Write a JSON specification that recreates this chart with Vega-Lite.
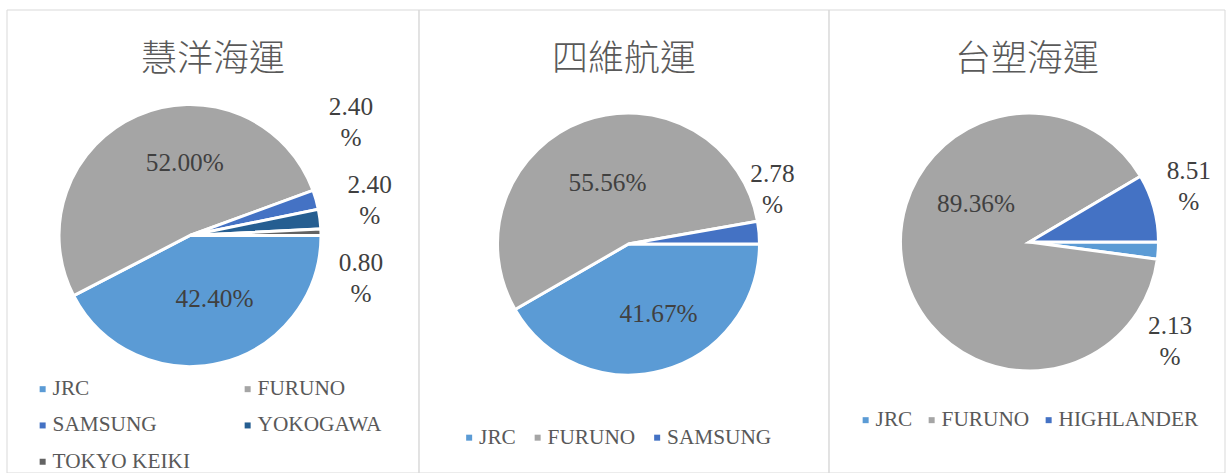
{
  "$schema": "https://vega.github.io/schema/vega-lite/v6.json",
  "background": "#ffffff",
  "padding": {"left": 6, "top": 9, "right": 0, "bottom": 0},
  "spacing": 0,
  "bounds": "flush",
  "config": {
    "view": {"stroke": null},
    "title": {"font": "Noto Sans CJK TC", "fontSize": 36, "fontWeight": 300, "color": "#595959", "anchor": "middle", "baseline": "middle", "offset": -69},
    "legend": {"orient": "none", "title": null, "symbolType": "square", "symbolSize": 36, "symbolStrokeWidth": 0, "labelFont": "Liberation Serif", "labelFontSize": 21.3, "labelColor": "#595959", "labelOffset": -0.7, "padding": 0, "direction": "horizontal", "labelLimit": 300},
    "text": {"font": "Liberation Serif", "fontSize": 25.3, "align": "center", "baseline": "middle"}
  },
  "datasets": {
    "p1": [
      {"brand": "JRC", "share": 0.424, "rank": 1},
      {"brand": "FURUNO", "share": 0.52, "rank": 2},
      {"brand": "SAMSUNG", "share": 0.024, "rank": 3},
      {"brand": "YOKOGAWA", "share": 0.024, "rank": 4},
      {"brand": "TOKYO KEIKI", "share": 0.008, "rank": 5}
    ],
    "p2": [
      {"brand": "JRC", "share": 0.4167, "rank": 1},
      {"brand": "FURUNO", "share": 0.5556, "rank": 2},
      {"brand": "SAMSUNG", "share": 0.0278, "rank": 3}
    ],
    "p3": [
      {"brand": "JRC", "share": 0.0213, "rank": 1},
      {"brand": "FURUNO", "share": 0.8936, "rank": 2},
      {"brand": "HIGHLANDER", "share": 0.0851, "rank": 3}
    ],
    "frame": [{}]
  },
  "resolve": {"scale": {"color": "independent", "theta": "independent"}, "legend": {"color": "independent"}},
  "hconcat": [
    {
      "width": 412, "height": 463,
      "title": {"text": "慧洋海運"},
      "layer": [
        {"data": {"name": "frame"}, "mark": {"type": "rect", "fill": "transparent", "stroke": "#D9D9D9", "strokeWidth": 1}, "encoding": {}},
        {
          "data": {"name": "p1"},
          "encoding": {
            "theta": {"field": "share", "type": "quantitative", "stack": true, "scale": {"range": [1.5707963, 7.8539816]}},
            "order": {"field": "rank", "type": "quantitative"},
            "color": {"field": "brand", "type": "nominal",
              "scale": {"domain": ["JRC", "FURUNO", "SAMSUNG", "YOKOGAWA", "TOKYO KEIKI"], "range": ["#5B9BD5", "#A5A5A5", "#4472C4", "#255E91", "#636363"]},
              "legend": {"legendX": 25, "legendY": 368.5, "columns": 2, "columnPadding": 46, "rowPadding": 14.3}}
          },
          "layer": [
            {"mark": {"type": "arc", "outerRadius": 131, "stroke": "#ffffff", "strokeWidth": 3, "x": 183, "y": 225.5}},
            {"mark": {"type": "text", "font": "Liberation Serif", "radius": 70, "x": 183, "y": 225.5, "dx": 8, "dy": -4.5},
             "encoding": {"text": {"field": "share", "format": ".2%"}, "color": {"value": "#404040"}, "opacity": {"condition": {"test": "datum.brand === 'JRC'", "value": 1}, "value": 0}}},
            {"mark": {"type": "text", "font": "Liberation Serif", "radius": 70, "x": 183, "y": 225.5, "dx": 23, "dy": -8},
             "encoding": {"text": {"field": "share", "format": ".2%"}, "color": {"value": "#404040"}, "opacity": {"condition": {"test": "datum.brand === 'FURUNO'", "value": 1}, "value": 0}}},
            {"mark": {"type": "text", "font": "Liberation Serif", "radius": {"expr": "datum.brand === 'SAMSUNG' ? 160 : 0"}, "x": 183, "y": 225.5, "dx": 7, "dy": -85, "lineHeight": 31, "lineBreak": {"expr": "regexp('(?=%)')"}},
             "encoding": {"text": {"field": "share", "format": ".2%"}, "color": {"value": "#404040"}, "opacity": {"condition": {"test": "datum.brand === 'SAMSUNG'", "value": 1}, "value": 0}}},
            {"mark": {"type": "text", "font": "Liberation Serif", "radius": {"expr": "datum.brand === 'YOKOGAWA' ? 160 : 0"}, "x": 183, "y": 225.5, "dx": 21, "dy": -30.5, "lineHeight": 31, "lineBreak": {"expr": "regexp('(?=%)')"}},
             "encoding": {"text": {"field": "share", "format": ".2%"}, "color": {"value": "#404040"}, "opacity": {"condition": {"test": "datum.brand === 'YOKOGAWA'", "value": 1}, "value": 0}}},
            {"mark": {"type": "text", "font": "Liberation Serif", "radius": {"expr": "datum.brand === 'TOKYO KEIKI' ? 160 : 0"}, "x": 183, "y": 225.5, "dx": 11, "dy": 32, "lineHeight": 31, "lineBreak": {"expr": "regexp('(?=%)')"}},
             "encoding": {"text": {"field": "share", "format": ".2%"}, "color": {"value": "#404040"}, "opacity": {"condition": {"test": "datum.brand === 'TOKYO KEIKI'", "value": 1}, "value": 0}}}
          ]
        }
      ]
    },
    {
      "width": 410, "height": 463,
      "title": {"text": "四維航運"},
      "layer": [
        {"data": {"name": "frame"}, "mark": {"type": "rect", "fill": "transparent", "stroke": "#D9D9D9", "strokeWidth": 1}, "encoding": {}},
        {
          "data": {"name": "p2"},
          "encoding": {
            "theta": {"field": "share", "type": "quantitative", "stack": true, "scale": {"range": [1.5707963, 7.8539816]}},
            "order": {"field": "rank", "type": "quantitative"},
            "color": {"field": "brand", "type": "nominal",
              "scale": {"domain": ["JRC", "FURUNO", "SAMSUNG"], "range": ["#5B9BD5", "#A5A5A5", "#4472C4"]},
              "legend": {"legendX": 39.5, "legendY": 417, "columnPadding": 10.5}}
          },
          "layer": [
            {"mark": {"type": "arc", "outerRadius": 131, "stroke": "#ffffff", "strokeWidth": 3, "x": 209.5, "y": 234}},
            {"mark": {"type": "text", "font": "Liberation Serif", "radius": 70, "x": 209.5, "y": 234, "dx": 12, "dy": 2},
             "encoding": {"text": {"field": "share", "format": ".2%"}, "color": {"value": "#404040"}, "opacity": {"condition": {"test": "datum.brand === 'JRC'", "value": 1}, "value": 0}}},
            {"mark": {"type": "text", "font": "Liberation Serif", "radius": 70, "x": 209.5, "y": 234, "dx": 3, "dy": 5},
             "encoding": {"text": {"field": "share", "format": ".2%"}, "color": {"value": "#404040"}, "opacity": {"condition": {"test": "datum.brand === 'FURUNO'", "value": 1}, "value": 0}}},
            {"mark": {"type": "text", "font": "Liberation Serif", "radius": {"expr": "datum.brand === 'SAMSUNG' ? 160 : 0"}, "x": 209.5, "y": 234, "dx": -15.4, "dy": -55.8, "lineHeight": 31, "lineBreak": {"expr": "regexp('(?=%)')"}},
             "encoding": {"text": {"field": "share", "format": ".2%"}, "color": {"value": "#404040"}, "opacity": {"condition": {"test": "datum.brand === 'SAMSUNG'", "value": 1}, "value": 0}}}
          ]
        }
      ]
    },
    {
      "width": 396, "height": 463,
      "title": {"text": "台塑海運"},
      "layer": [
        {"data": {"name": "frame"}, "mark": {"type": "rect", "fill": "transparent", "stroke": "#D9D9D9", "strokeWidth": 1}, "encoding": {}},
        {
          "data": {"name": "p3"},
          "encoding": {
            "theta": {"field": "share", "type": "quantitative", "stack": true, "scale": {"range": [1.5707963, 7.8539816]}},
            "order": {"field": "rank", "type": "quantitative"},
            "color": {"field": "brand", "type": "nominal",
              "scale": {"domain": ["JRC", "FURUNO", "HIGHLANDER"], "range": ["#5B9BD5", "#A5A5A5", "#4472C4"]},
              "legend": {"legendX": 26, "legendY": 399.5, "columnPadding": 8}}
          },
          "layer": [
            {"mark": {"type": "arc", "outerRadius": 129, "stroke": "#ffffff", "strokeWidth": 3, "x": 200.5, "y": 232}},
            {"mark": {"type": "text", "font": "Liberation Serif", "radius": 80, "x": 200.5, "y": 232, "dx": 25, "dy": -54},
             "encoding": {"text": {"field": "share", "format": ".2%"}, "color": {"value": "#404040"}, "opacity": {"condition": {"test": "datum.brand === 'FURUNO'", "value": 1}, "value": 0}}},
            {"mark": {"type": "text", "font": "Liberation Serif", "radius": {"expr": "datum.brand === 'HIGHLANDER' ? 160 : 0"}, "x": 200.5, "y": 232, "dx": 5, "dy": -29, "lineHeight": 31, "lineBreak": {"expr": "regexp('(?=%)')"}},
             "encoding": {"text": {"field": "share", "format": ".2%"}, "color": {"value": "#404040"}, "opacity": {"condition": {"test": "datum.brand === 'HIGHLANDER'", "value": 1}, "value": 0}}},
            {"mark": {"type": "text", "font": "Liberation Serif", "radius": {"expr": "datum.brand === 'JRC' ? 160 : 0"}, "x": 200.5, "y": 232, "dx": -19, "dy": 73, "lineHeight": 31, "lineBreak": {"expr": "regexp('(?=%)')"}},
             "encoding": {"text": {"field": "share", "format": ".2%"}, "color": {"value": "#404040"}, "opacity": {"condition": {"test": "datum.brand === 'JRC'", "value": 1}, "value": 0}}}
          ]
        }
      ]
    }
  ]
}
